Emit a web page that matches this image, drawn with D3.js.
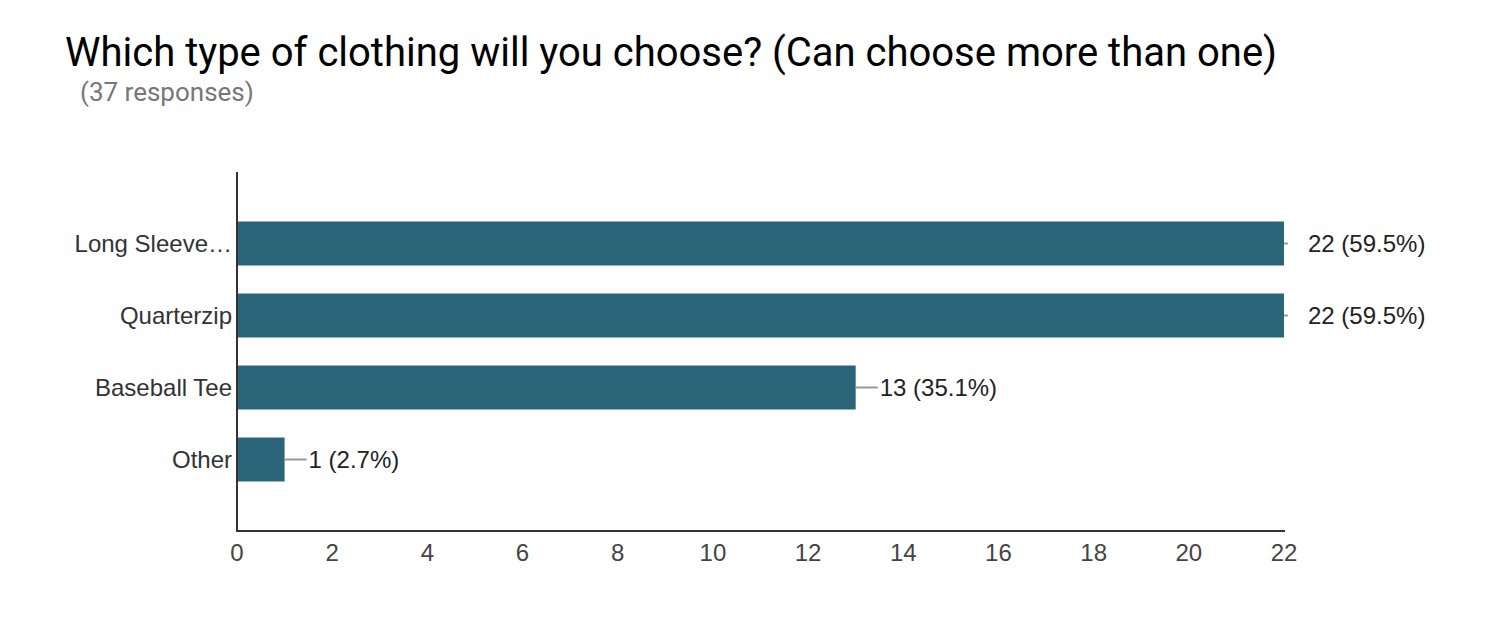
<!DOCTYPE html>
<html>
<head>
<meta charset="utf-8">
<script src="https://cdn.jsdelivr.net/npm/d3@7"></script>
<style>
  body { margin: 0; background: #fff; }
  text { font-family: "Liberation Sans", Arial, sans-serif; }
</style>
</head>
<body>
<svg width="1492" height="622"></svg>
<script>
var categories = ["Long Sleeve…", "Quarterzip", "Baseball Tee", "Other"];
var counts = [22, 22, 13, 1];
var percents = ["59.5%", "59.5%", "35.1%", "2.7%"];
var xTicks = [0, 2, 4, 6, 8, 10, 12, 14, 16, 18, 20, 22];
var totalResponses = 37;

var svg = d3.select("svg");

var x = d3.scaleLinear().domain([0, 22]).range([237, 1284]);
var y = d3.scaleBand().domain(categories).range([172, 531])
    .paddingInner(0.389).paddingOuter(0.6875);

svg.append("text")
    .attr("x", 65).attr("y", 66)
    .style("font-family", "Roboto")
    .style("font-size", "40px")
    .style("fill", "#000")
    .text("Which type of clothing will you choose? (Can choose more than one)");

svg.append("text")
    .attr("x", 80).attr("y", 101)
    .style("font-family", "Roboto")
    .style("font-size", "26px")
    .style("fill", "#777")
    .text("(" + totalResponses + " responses)");

var rows = categories.map((c, i) => ({cat: c, n: counts[i], pct: percents[i]}));

svg.selectAll("rect.bar")
    .data(rows)
    .enter()
    .append("rect")
    .attr("class", "bar")
    .attr("x", x(0))
    .attr("y", d => y(d.cat))
    .attr("width", d => x(d.n) - x(0))
    .attr("height", y.bandwidth())
    .style("fill", "#2a6479");

// leader lines, clipped at the chart edge
svg.selectAll("line.lead")
    .data(rows)
    .enter()
    .append("line")
    .attr("x1", d => x(d.n))
    .attr("x2", d => Math.min(x(d.n) + 22, x(22) + 4))
    .attr("y1", d => y(d.cat) + y.bandwidth() / 2)
    .attr("y2", d => y(d.cat) + y.bandwidth() / 2)
    .style("stroke", "#999")
    .style("stroke-width", 2);

svg.selectAll("text.val")
    .data(rows)
    .enter()
    .append("text")
    .attr("x", d => x(d.n) + 24)
    .attr("y", d => y(d.cat) + y.bandwidth() / 2)
    .attr("dy", "0.36em")
    .style("font-size", "24px")
    .style("fill", "#222")
    .text(d => d.n + " (" + d.pct + ")");

svg.selectAll("text.cat")
    .data(rows)
    .enter()
    .append("text")
    .attr("x", 232)
    .attr("y", d => y(d.cat) + y.bandwidth() / 2)
    .attr("dy", "0.36em")
    .attr("text-anchor", "end")
    .style("font-size", "24px")
    .style("fill", "#333")
    .text(d => d.cat);

svg.selectAll("text.tick")
    .data(xTicks)
    .enter()
    .append("text")
    .attr("x", d => x(d))
    .attr("y", 552)
    .attr("dy", "0.36em")
    .attr("text-anchor", "middle")
    .style("font-size", "24px")
    .style("fill", "#444")
    .text(d => d);

svg.append("line")
    .attr("x1", 237).attr("x2", 237)
    .attr("y1", 172).attr("y2", 532)
    .style("stroke", "#333").style("stroke-width", 2);

svg.append("line")
    .attr("x1", 236).attr("x2", 1285)
    .attr("y1", 531).attr("y2", 531)
    .style("stroke", "#333").style("stroke-width", 2);
</script>
</body>
</html>
